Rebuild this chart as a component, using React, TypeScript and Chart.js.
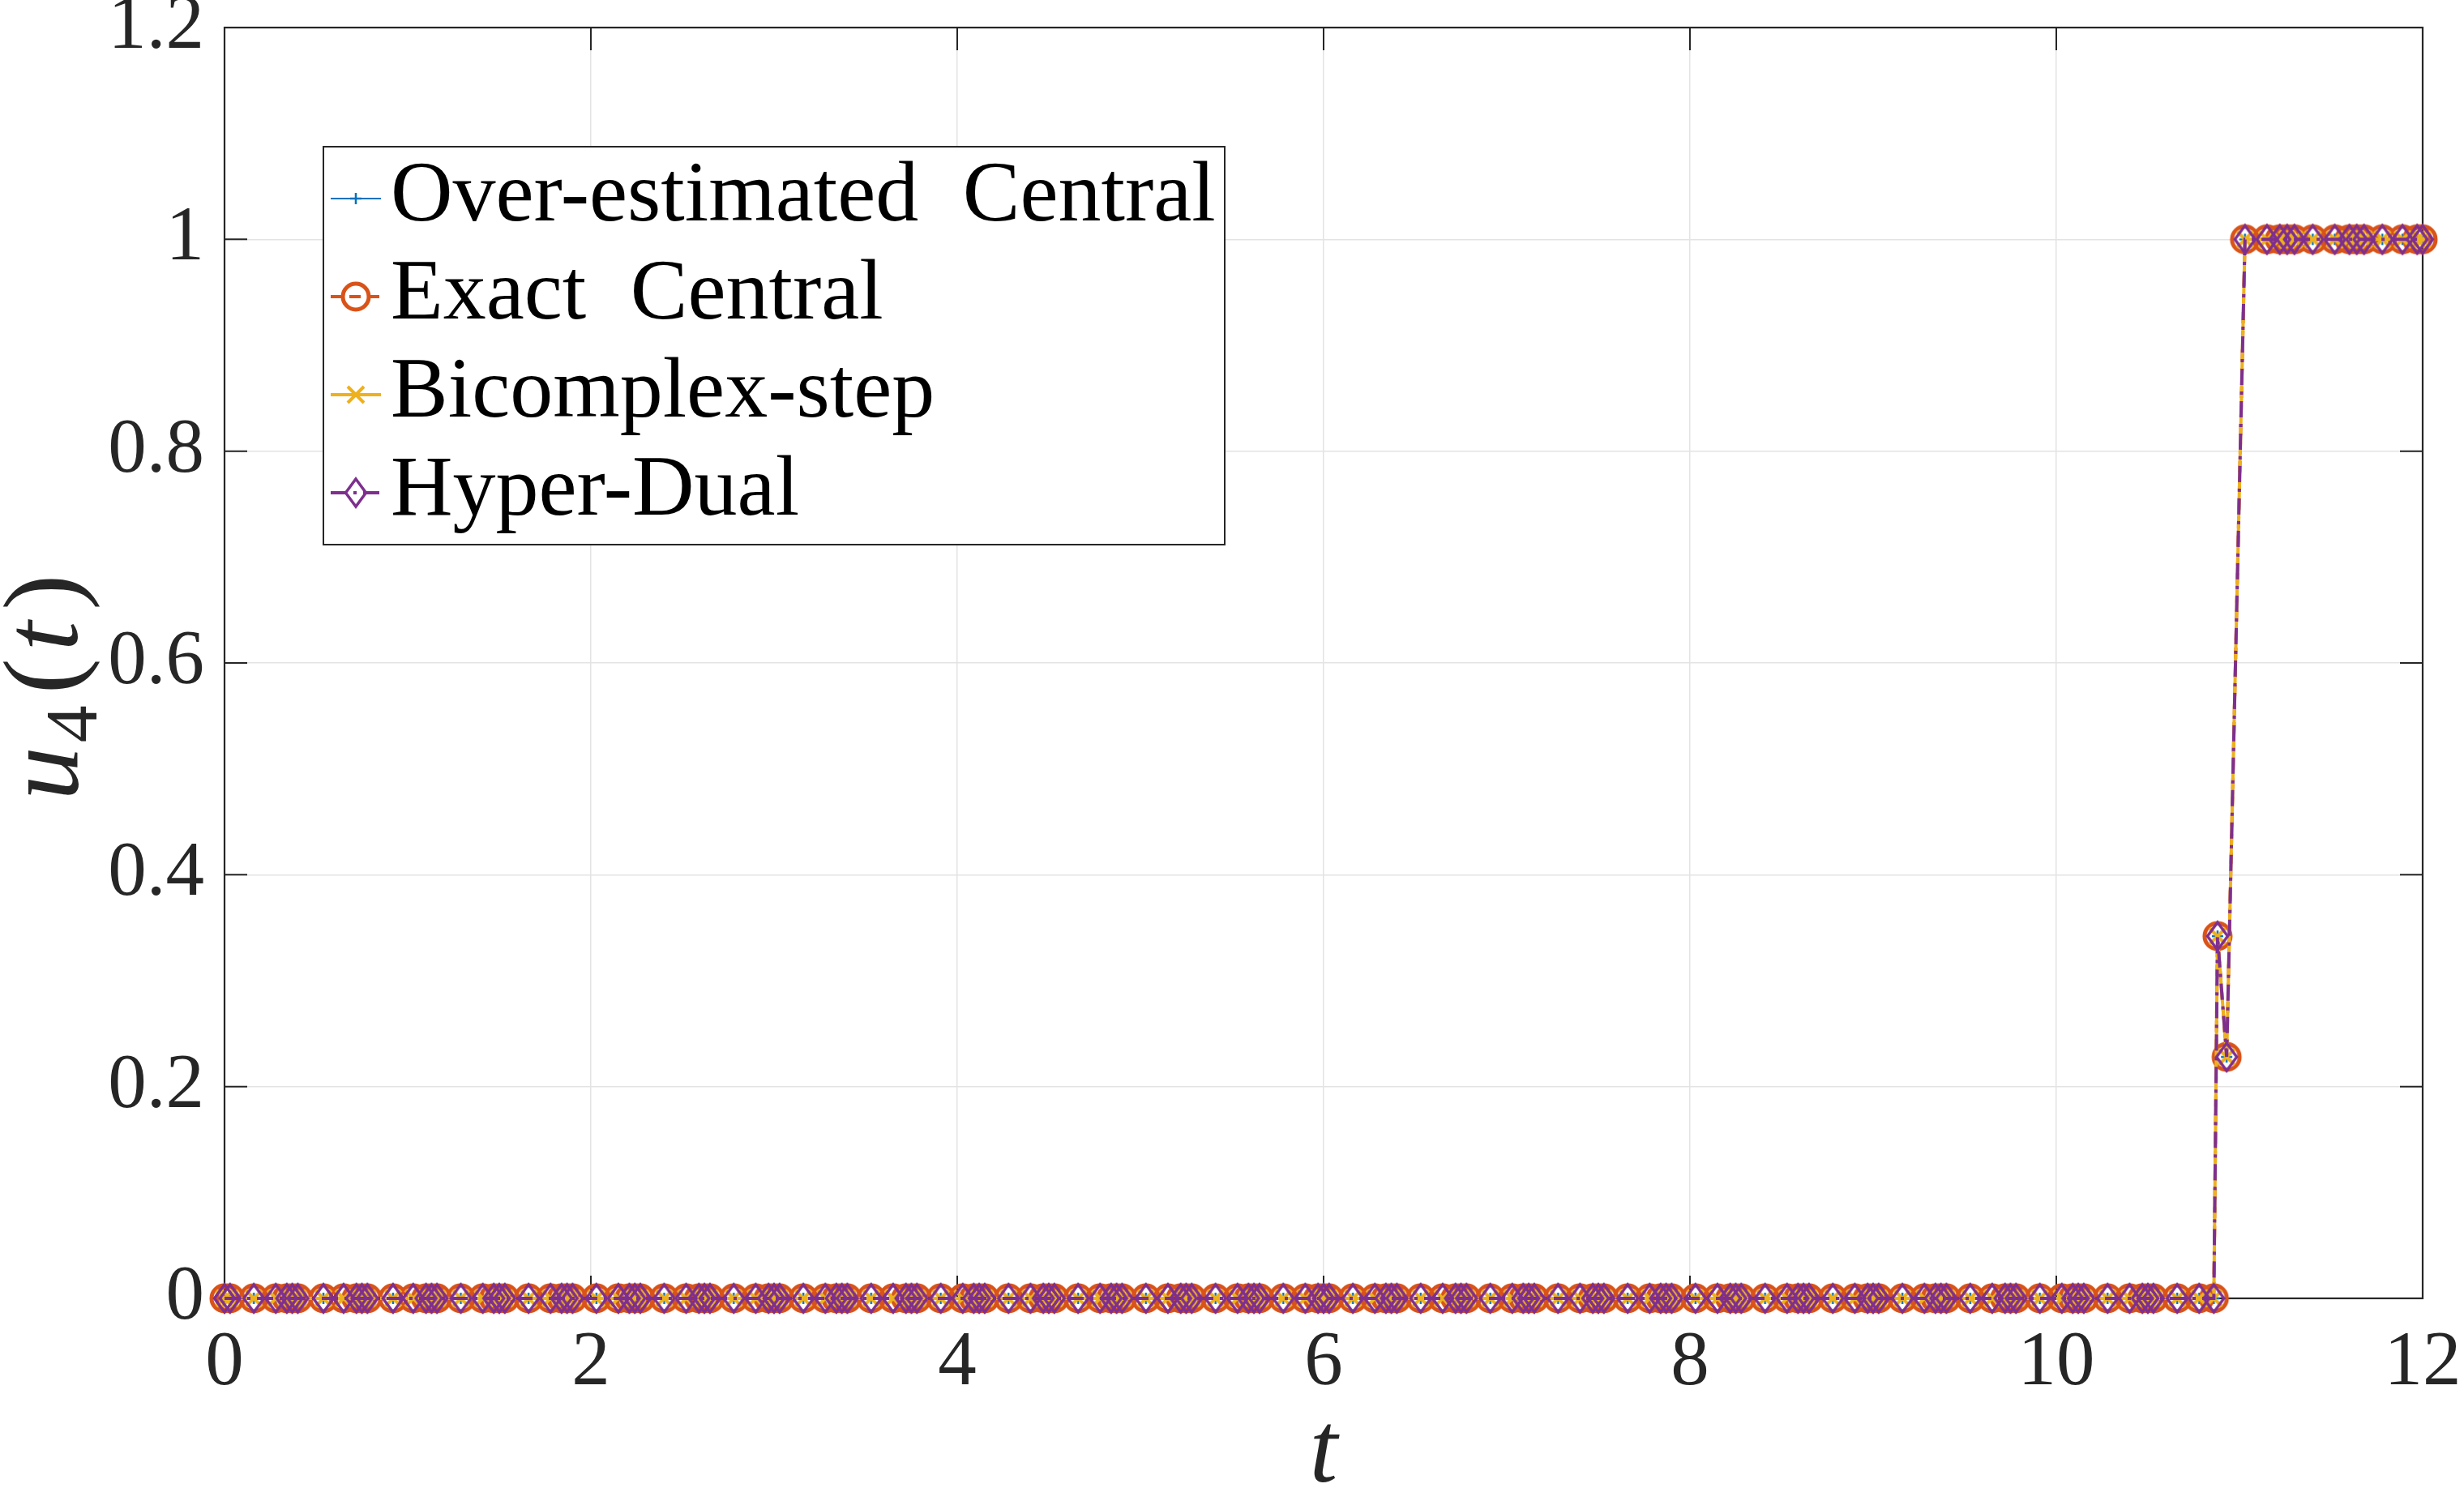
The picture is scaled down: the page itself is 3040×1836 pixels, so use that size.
import React, { useEffect, useRef } from 'react';
import { Chart, registerables } from 'chart.js';

Chart.register(...registerables);

// ---------------- data ----------------
const tValues = [
  0, 0.03, 0.16, 0.28,
  0.34, 0.37, 0.40, 0.54, 0.65,
  0.72, 0.75, 0.78, 0.92, 1.03,
  1.10, 1.13, 1.16, 1.29, 1.41,
  1.47, 1.50, 1.53, 1.66, 1.78,
  1.84, 1.87, 1.90, 2.03, 2.15,
  2.21, 2.24, 2.27, 2.40, 2.52,
  2.59, 2.62, 2.65, 2.78, 2.90,
  2.97, 3.00, 3.03, 3.16, 3.28,
  3.34, 3.37, 3.40, 3.53, 3.65,
  3.72, 3.75, 3.78, 3.91, 4.03,
  4.09, 4.12, 4.15, 4.28, 4.40,
  4.47, 4.50, 4.53, 4.66, 4.78,
  4.84, 4.87, 4.90, 5.03, 5.15,
  5.22, 5.25, 5.28, 5.41, 5.53,
  5.59, 5.62, 5.65, 5.78, 5.90,
  5.97, 6.00, 6.03, 6.16, 6.28,
  6.34, 6.37, 6.40, 6.53, 6.65,
  6.72, 6.75, 6.78, 6.91, 7.03,
  7.09, 7.12, 7.15, 7.28, 7.40,
  7.47, 7.50, 7.53, 7.66, 7.78,
  7.84, 7.87, 7.90, 8.03, 8.15,
  8.22, 8.25, 8.28, 8.41, 8.53,
  8.59, 8.62, 8.65, 8.78, 8.90,
  8.97, 9.00, 9.03, 9.16, 9.28,
  9.34, 9.37, 9.40, 9.53, 9.65,
  9.72, 9.75, 9.78, 9.91, 10.03,
  10.09, 10.12, 10.15, 10.28, 10.40,
  10.47, 10.50, 10.53, 10.66, 10.78,
  10.86,
  10.88, 10.93,
  11.03, 11.15, 11.22, 11.26, 11.30, 11.40, 11.52,
  11.60, 11.64, 11.68, 11.78, 11.89, 11.97, 12.00,
];

// u4(t): all four derivative methods give the same curve
const u4Values = [
  0, 0, 0, 0,
  0, 0, 0, 0, 0,
  0, 0, 0, 0, 0,
  0, 0, 0, 0, 0,
  0, 0, 0, 0, 0,
  0, 0, 0, 0, 0,
  0, 0, 0, 0, 0,
  0, 0, 0, 0, 0,
  0, 0, 0, 0, 0,
  0, 0, 0, 0, 0,
  0, 0, 0, 0, 0,
  0, 0, 0, 0, 0,
  0, 0, 0, 0, 0,
  0, 0, 0, 0, 0,
  0, 0, 0, 0, 0,
  0, 0, 0, 0, 0,
  0, 0, 0, 0, 0,
  0, 0, 0, 0, 0,
  0, 0, 0, 0, 0,
  0, 0, 0, 0, 0,
  0, 0, 0, 0, 0,
  0, 0, 0, 0, 0,
  0, 0, 0, 0, 0,
  0, 0, 0, 0, 0,
  0, 0, 0, 0, 0,
  0, 0, 0, 0, 0,
  0, 0, 0, 0, 0,
  0, 0, 0, 0, 0,
  0, 0, 0, 0, 0,
  0,
  0.342, 0.228,
  1, 1, 1, 1, 1, 1, 1,
  1, 1, 1, 1, 1, 1, 1,
];

const seriesLabels = ['Over-estimated Central', 'Exact Central', 'Bicomplex-step', 'Hyper-Dual'];

const xTickValues = [0, 2, 4, 6, 8, 10, 12];
const xTickLabels = ['0', '2', '4', '6', '8', '10', '12'];
const yTickValues = [0, 0.2, 0.4, 0.6, 0.8, 1, 1.2];
const yTickLabels = ['0', '0.2', '0.4', '0.6', '0.8', '1', '1.2'];
const xAxisTitle = 't';
const yAxisTitleParts = ['u', '4', '(', 't', ')'];

// ---------------- styles ----------------
const W = 3040;
const H = 1836;
const AXIS = '#262626';
const GRID = '#e3e3e3';
const SERIF = '"Liberation Serif", "DejaVu Serif", serif';

type MarkerKind = 'plus' | 'circle' | 'cross' | 'diamond';
const seriesStyles: { color: string; width: number; dash: number[]; marker: MarkerKind }[] = [
  { color: '#0072BD', width: 2, dash: [], marker: 'plus' },
  { color: '#D95319', width: 4, dash: [14, 9], marker: 'circle' },
  { color: '#EDB120', width: 4, dash: [], marker: 'cross' },
  { color: '#7E2F8E', width: 4, dash: [20, 8, 4, 8], marker: 'diamond' },
];

function makeMarker(kind: MarkerKind, color: string): HTMLCanvasElement {
  const c = document.createElement('canvas');
  const s = 52;
  c.width = s;
  c.height = s;
  const ctx = c.getContext('2d')!;
  const m = s / 2;
  ctx.strokeStyle = color;
  ctx.lineJoin = 'miter';
  ctx.beginPath();
  if (kind === 'plus') {
    ctx.lineWidth = 2.5;
    ctx.moveTo(m - 7, m); ctx.lineTo(m + 7, m);
    ctx.moveTo(m, m - 7); ctx.lineTo(m, m + 7);
  } else if (kind === 'circle') {
    ctx.lineWidth = 5;
    ctx.arc(m, m, 16, 0, Math.PI * 2);
  } else if (kind === 'cross') {
    ctx.lineWidth = 4;
    ctx.moveTo(m - 10, m - 10); ctx.lineTo(m + 10, m + 10);
    ctx.moveTo(m - 10, m + 10); ctx.lineTo(m + 10, m - 10);
  } else {
    ctx.lineWidth = 3.5;
    ctx.moveTo(m, m - 17); ctx.lineTo(m + 12.5, m); ctx.lineTo(m, m + 17); ctx.lineTo(m - 12.5, m);
    ctx.closePath();
  }
  ctx.stroke();
  return c;
}

const LEGEND = { left: 399, top: 181, right: 1511, bottom: 672, rowY: [245, 366, 487, 608], lineX0: 408, lineX1: 470, markerX: 439, textX: 482, textDy: 27, font: 106, wordGap: 28 };

export default function App() {
  const ref = useRef<HTMLCanvasElement | null>(null);

  useEffect(() => {
    document.body.style.margin = '0';
    let chart: Chart | null = null;
    let cancelled = false;

    const build = () => {
      const canvas = ref.current;
      if (!canvas || cancelled) return;
      const markers = seriesStyles.map((s) => makeMarker(s.marker, s.color));

      const framePlugin = {
        id: 'matlabFrame',
        beforeDatasetsDraw(ch: any) {
          const { ctx, chartArea: a } = ch;
          const xs = ch.scales.x;
          const ys = ch.scales.y;
          ctx.save();
          ctx.strokeStyle = AXIS;
          ctx.lineWidth = 2;
          ctx.beginPath();
          const tl = 28;
          xTickValues.forEach((v) => {
            const px = xs.getPixelForValue(v);
            ctx.moveTo(px, a.bottom); ctx.lineTo(px, a.bottom - tl);
            ctx.moveTo(px, a.top); ctx.lineTo(px, a.top + tl);
          });
          yTickValues.forEach((v) => {
            const py = ys.getPixelForValue(v);
            ctx.moveTo(a.left, py); ctx.lineTo(a.left + tl, py);
            ctx.moveTo(a.right, py); ctx.lineTo(a.right - tl, py);
          });
          ctx.stroke();
          ctx.lineWidth = 2.2;
          ctx.strokeRect(a.left, a.top, a.right - a.left, a.bottom - a.top);
          ctx.restore();
        },
        afterDraw(ch: any) {
          const { ctx, chartArea: a } = ch;
          ctx.save();
          ctx.fillStyle = AXIS;
          ctx.font = `italic 124px ${SERIF}`;
          ctx.textAlign = 'center';
          ctx.textBaseline = 'alphabetic';
          ctx.fillText(xAxisTitle, (a.left + a.right) / 2, 1828);

          // y title, rotated
          ctx.save();
          ctx.translate(95, 848);
          ctx.rotate(-Math.PI / 2);
          const big = 132;
          const small = 92;
          const pieces = [
            { s: yAxisTitleParts[0], font: `italic ${big}px ${SERIF}`, dy: 0, gap: 5 },
            { s: yAxisTitleParts[1], font: `${small}px ${SERIF}`, dy: 24, gap: 14 },
            { s: yAxisTitleParts[2], font: `${big}px ${SERIF}`, dy: 0, gap: 9 },
            { s: yAxisTitleParts[3], font: `italic ${big}px ${SERIF}`, dy: 0, gap: 14 },
            { s: yAxisTitleParts[4], font: `${big}px ${SERIF}`, dy: 0, gap: 0 },
          ];
          let total = 0;
          pieces.forEach((p) => { ctx.font = p.font; total += ctx.measureText(p.s).width + p.gap; });
          let x = -total / 2;
          ctx.textAlign = 'left';
          pieces.forEach((p) => {
            ctx.font = p.font;
            ctx.fillText(p.s, x, p.dy);
            x += ctx.measureText(p.s).width + p.gap;
          });
          ctx.restore();

          // legend
          const L = LEGEND;
          ctx.fillStyle = '#ffffff';
          ctx.fillRect(L.left, L.top, L.right - L.left, L.bottom - L.top);
          ctx.strokeStyle = '#262626';
          ctx.lineWidth = 2;
          ctx.strokeRect(L.left, L.top, L.right - L.left, L.bottom - L.top);
          seriesLabels.forEach((label, i) => {
            const st = seriesStyles[i];
            const y = L.rowY[i];
            ctx.save();
            ctx.strokeStyle = st.color;
            ctx.lineWidth = st.width;
            ctx.setLineDash(st.dash);
            ctx.beginPath();
            ctx.moveTo(L.lineX0, y);
            ctx.lineTo(L.lineX1, y);
            ctx.stroke();
            ctx.restore();
            const mk = markers[i];
            ctx.drawImage(mk, L.markerX - mk.width / 2, y - mk.height / 2);
            ctx.fillStyle = '#000000';
            ctx.font = `${L.font}px ${SERIF}`;
            ctx.textAlign = 'left';
            ctx.textBaseline = 'alphabetic';
            // LaTeX-like wide inter-word space
            const words = label.split(' ');
            let tx = L.textX;
            words.forEach((w, k) => {
              ctx.fillText(w, tx, y + L.textDy);
              tx += ctx.measureText(w).width;
              if (k < words.length - 1) tx += ctx.measureText(' ').width + L.wordGap;
            });
          });
          ctx.restore();
        },
      };

      const datasets = seriesLabels.map((label, i) => ({
        label,
        data: tValues.map((t, k) => ({ x: t, y: u4Values[k] })),
        borderColor: seriesStyles[i].color,
        backgroundColor: seriesStyles[i].color,
        borderWidth: seriesStyles[i].width,
        borderDash: seriesStyles[i].dash,
        pointStyle: markers[i] as any,
        pointRadius: 17,
        pointHoverRadius: 17,
        fill: false,
        tension: 0,
        clip: false as any,
        order: 3 - i,
      }));

      chart = new Chart(canvas, {
        type: 'line',
        data: { datasets },
        options: {
          animation: false,
          responsive: false,
          devicePixelRatio: 1,
          events: [],
          layout: { padding: { top: 34, right: 51, left: 0, bottom: 0 } },
          plugins: { legend: { display: false }, tooltip: { enabled: false } },
          scales: {
            x: {
              type: 'linear',
              min: 0,
              max: 12,
              afterBuildTicks: (s: any) => { s.ticks = xTickValues.map((v) => ({ value: v })); },
              afterFit: (s: any) => {
                s.height = H - 1602;
                s.paddingLeft = 0;
                s.paddingRight = 0;
              },
              ticks: {
                callback: (_v: any, i: number) => xTickLabels[i],
                font: { family: SERIF, size: 95 },
                color: AXIS,
                padding: 24,
                maxRotation: 0,
                autoSkip: false,
              },
              grid: { color: GRID, lineWidth: 1.5, drawTicks: false },
              border: { display: false },
            },
            y: {
              type: 'linear',
              min: 0,
              max: 1.2,
              afterBuildTicks: (s: any) => { s.ticks = yTickValues.map((v) => ({ value: v })); },
              afterFit: (s: any) => {
                s.width = 277;
                s.paddingTop = 0;
                s.paddingBottom = 0;
              },
              ticks: {
                callback: (_v: any, i: number) => yTickLabels[i],
                font: { family: SERIF, size: 95 },
                color: AXIS,
                padding: 25,
                autoSkip: false,
              },
              grid: { color: GRID, lineWidth: 1.5, drawTicks: false },
              border: { display: false },
            },
          },
        },
        plugins: [framePlugin],
      });
    };

    const fontsToLoad = [
      `95px "Liberation Serif"`,
      `106px "Liberation Serif"`,
      `italic 124px "Liberation Serif"`,
    ];
    const fontSet: any = (document as any).fonts;
    if (fontSet && fontSet.load) {
      Promise.all(fontsToLoad.map((f) => fontSet.load(f).catch(() => null)))
        .then(() => build())
        .catch(() => build());
    } else {
      build();
    }

    return () => {
      cancelled = true;
      if (chart) chart.destroy();
    };
  }, []);

  return (
    <div style={{ width: W, height: H, background: '#ffffff' }}>
      <canvas ref={ref} width={W} height={H} style={{ display: 'block', width: W, height: H }} />
    </div>
  );
}
